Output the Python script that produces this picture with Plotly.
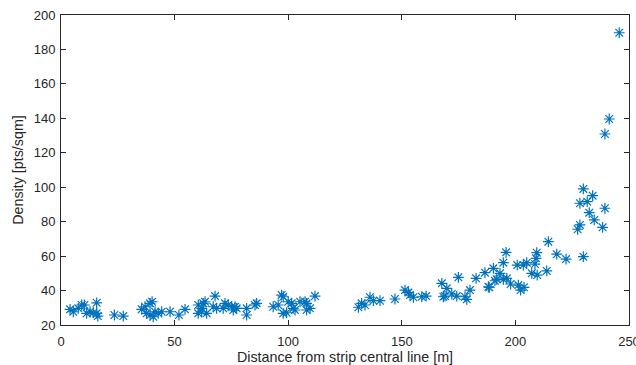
import plotly.graph_objects as go

distance = [
    4.0, 5.4, 7.6, 9.1, 10.3, 11.3, 12.8, 15.7, 15.7, 16.2, 14.2, 23.5, 27.4,
    35.5, 37.0, 39.2, 40.1, 37.7, 39.2, 40.6, 41.4, 42.8, 44.3, 48.0, 51.9, 54.6,
    60.4, 60.4, 61.9, 62.6, 63.4, 61.9, 64.1, 67.8, 67.0, 68.5, 71.4, 72.2, 73.6,
    75.1, 75.8, 76.6, 77.3, 81.7, 81.7, 85.4, 86.1, 93.4, 95.6, 97.1, 97.8, 100.0,
    101.5, 97.8, 99.3, 102.2, 103.0, 105.2, 107.4, 108.1, 108.1, 109.6, 111.8,
    130.9, 132.3, 133.8, 136.0, 137.5, 140.4, 147.0, 151.4, 152.9, 153.6, 155.1,
    158.8, 160.7, 167.6, 169.8, 168.3, 169.0, 172.0, 174.2, 174.9, 177.8, 178.6,
    180.0, 182.7, 186.6, 188.1, 190.3, 188.5, 191.0, 191.8, 193.2, 194.7, 195.9,
    194.7, 196.2, 197.9, 201.3, 202.3, 203.8, 200.8, 203.5, 205.0, 207.2, 208.6,
    209.1, 209.4, 209.6, 213.8, 214.5, 218.2, 222.3, 227.4, 228.4, 229.9, 228.4,
    229.9, 231.6, 234.0, 232.5, 234.7, 238.4, 239.4, 245.7, 241.3, 239.4,
]
density = [
    29.1, 27.7, 29.7, 31.6, 31.6, 26.8, 27.7, 32.9, 26.8, 25.2, 27.1, 25.8, 25.2,
    29.1, 30.6, 32.6, 33.5, 26.8, 25.8, 24.8, 27.7, 26.8, 27.7, 27.7, 25.8, 29.1,
    31.6, 26.8, 29.7, 32.6, 33.5, 27.7, 26.8, 36.8, 30.6, 29.7, 29.7, 32.6, 31.6,
    30.6, 28.7, 30.6, 29.7, 29.7, 25.8, 31.6, 32.6, 30.6, 31.6, 37.4, 36.4, 33.5,
    32.6, 26.8, 27.1, 29.7, 28.7, 33.5, 33.5, 32.6, 28.7, 29.7, 36.8,
    30.3, 32.6, 31.6, 36.1, 34.1, 34.1, 35.1, 40.3, 38.8, 37.4, 36.1,
    36.4, 36.8, 44.2, 41.3, 36.4, 36.8, 38.0, 36.8, 47.7, 36.4, 34.9,
    40.3, 47.1, 50.4, 42.2, 52.9, 41.9, 45.7, 46.5, 50.0, 56.2, 62.2,
    46.5, 47.1, 43.8, 43.2, 40.3, 41.9, 54.8, 54.8, 56.2, 50.0, 55.4,
    58.7, 62.0, 49.0, 51.4, 68.4, 61.1, 58.3, 75.6, 78.1, 59.7, 90.7,
    99.0, 91.6, 95.1, 85.2, 81.0, 76.7, 87.8, 189.7, 139.6, 130.9,
]
x_ticks = [0, 50, 100, 150, 200, 250]
y_ticks = [20, 40, 60, 80, 100, 120, 140, 160, 180, 200]

blue = "#0072BD"
axis_col = "#262626"
font_family = "Liberation Sans, Arial, sans-serif"

fig = go.Figure(
    go.Scatter(
        x=distance, y=density, mode="markers",
        marker=dict(symbol="asterisk-open", size=9, color=blue,
                    line=dict(color=blue, width=1.2)),
        hoverinfo="x+y",
    )
)

axis_common = dict(
    showgrid=False, zeroline=False, showline=True, linecolor=axis_col,
    linewidth=1, mirror="ticks", ticks="inside", ticklen=5, tickwidth=1,
    tickcolor=axis_col, tickfont=dict(family=font_family, size=13, color=axis_col),
    automargin=False, ticklabeloverflow="allow",
)
fig.update_xaxes(range=[0, 250], tickvals=x_ticks, ticktext=[str(v) for v in x_ticks],
                 ticklabelstandoff=4,
                 title=dict(text="Distance from strip central line [m]", standoff=4,
                            font=dict(family=font_family, size=14.3, color=axis_col)),
                 **axis_common)
fig.update_yaxes(range=[20, 200], tickvals=y_ticks, ticktext=[str(v) for v in y_ticks],
                 ticklabelstandoff=2,
                 title=dict(text="Density [pts/sqm]", standoff=6,
                            font=dict(family=font_family, size=14.3, color=axis_col)),
                 **axis_common)
fig.update_layout(
    width=636, height=365,
    margin=dict(l=61, r=7, t=15, b=40),
    plot_bgcolor="white", paper_bgcolor="white",
    showlegend=False,
    font=dict(family=font_family, color=axis_col),
)
fig.write_html("out.html")
